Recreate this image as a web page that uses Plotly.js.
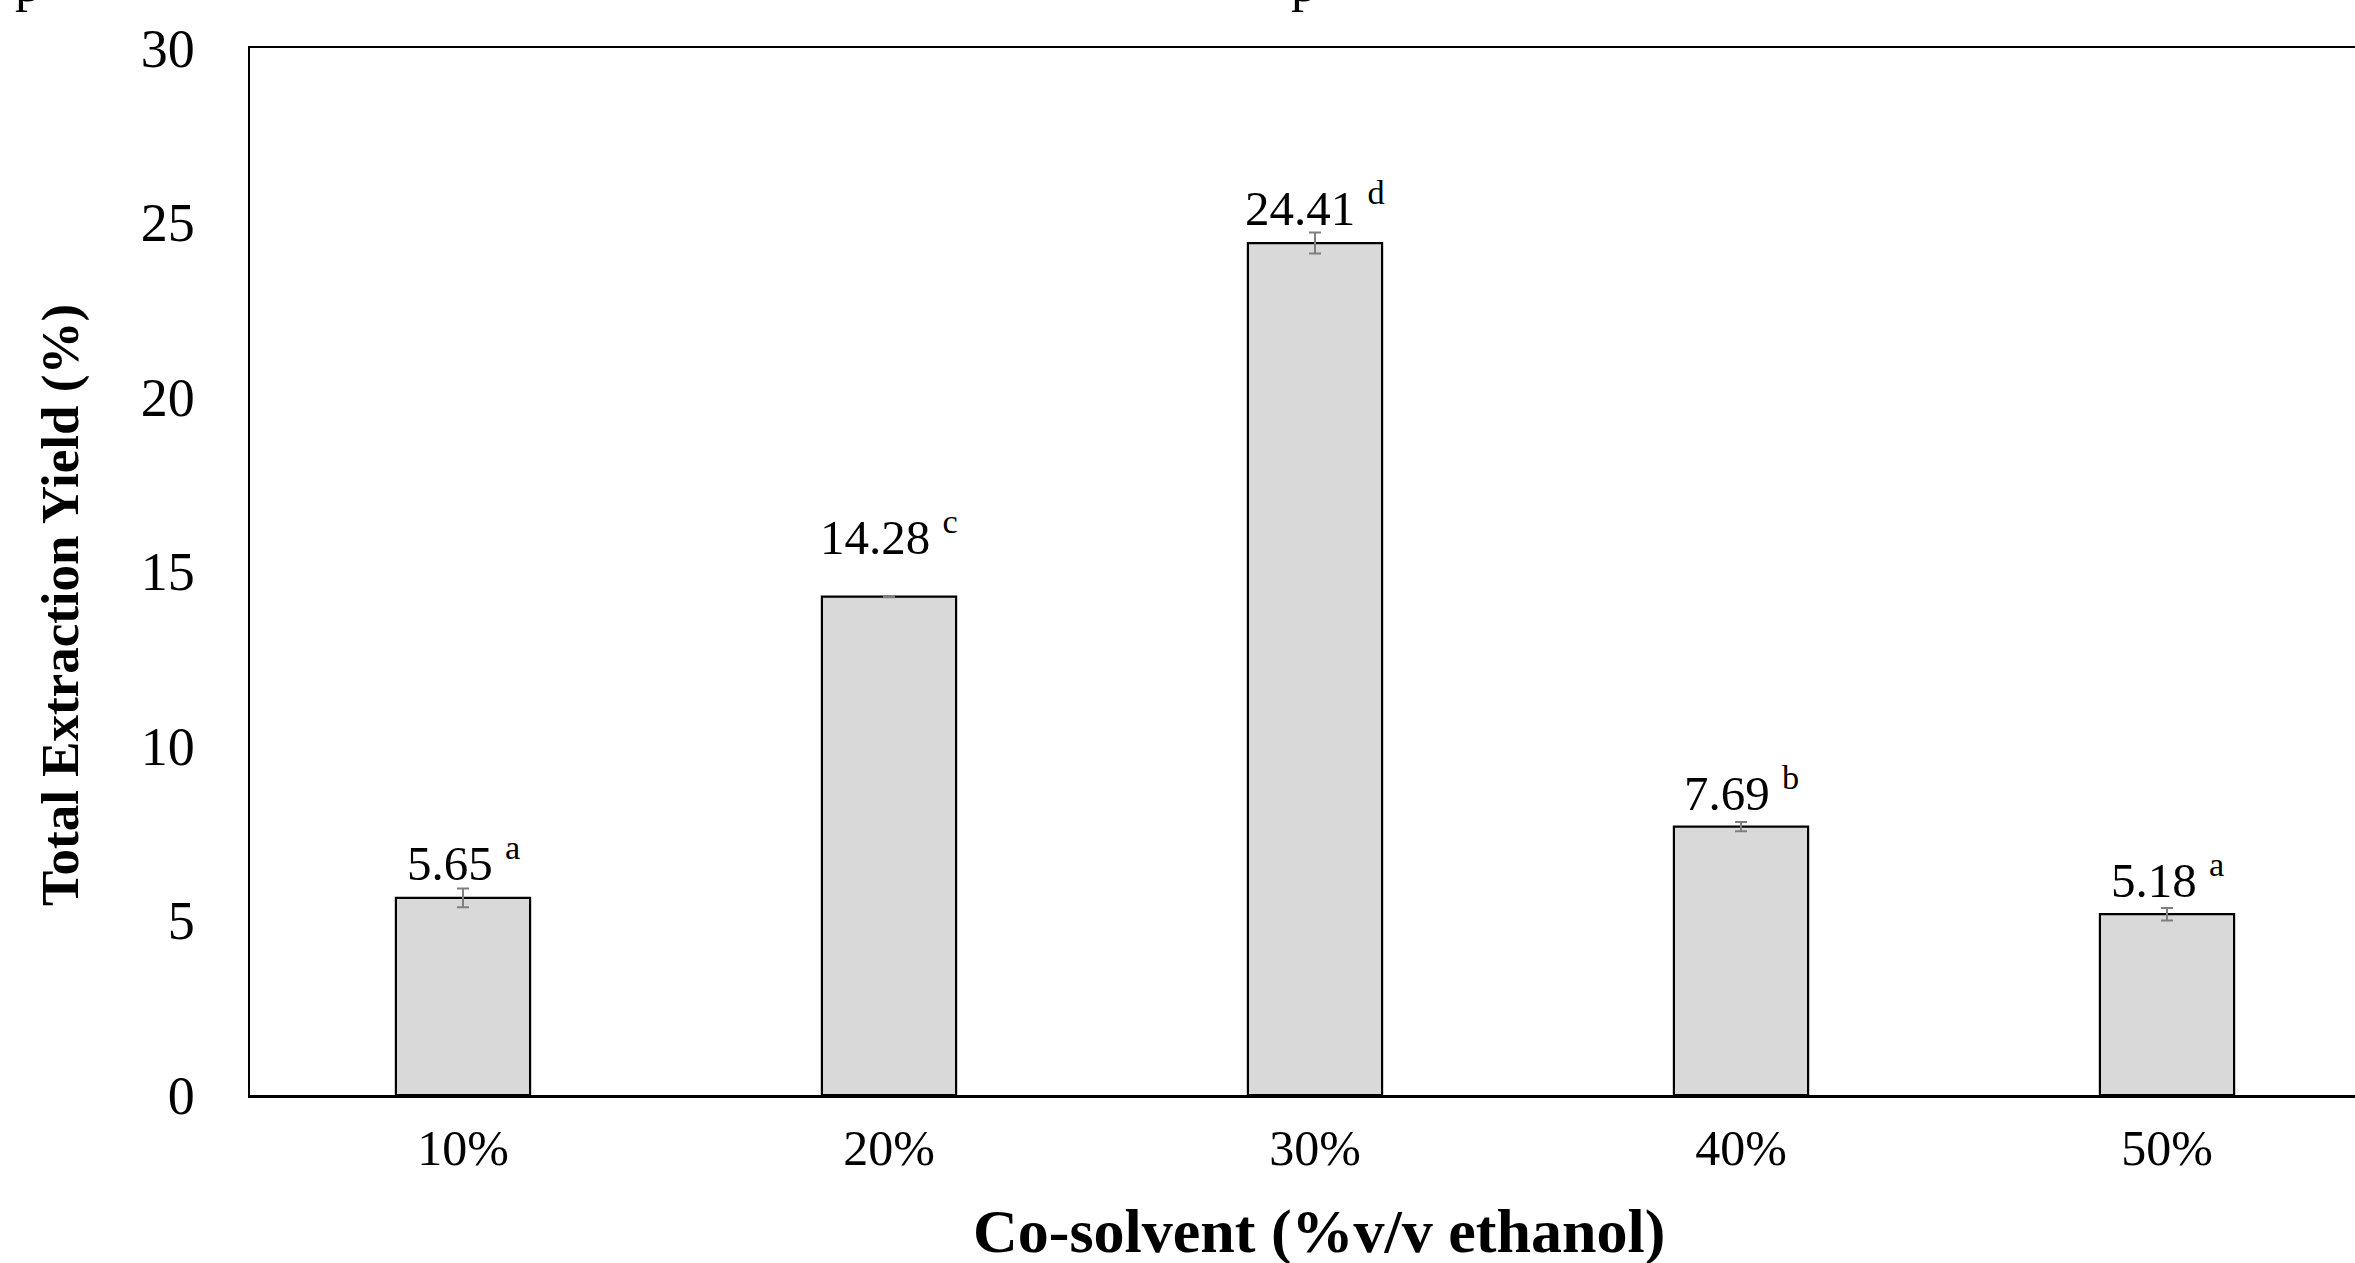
<!DOCTYPE html>
<html>
<head>
<meta charset="utf-8">
<script src="https://cdn.plot.ly/plotly-3.0.1.min.js"></script>
<style>
  html, body { margin: 0; padding: 0; background: #ffffff; overflow: hidden; }
  #chart { width: 2400px; height: 1263px; }
</style>
</head>
<body>
<div id="chart"></div>
<script>
// ---- data ----
const categories = ['10%', '20%', '30%', '40%', '50%'];
const yieldValues = [5.65, 14.28, 24.41, 7.69, 5.18];
const errorValues = [0.27, 0.02, 0.30, 0.13, 0.18];
const groupLetters = ['a', 'c', 'd', 'b', 'a'];
const yTickValues = [0, 5, 10, 15, 20, 25, 30];

// ---- styling (label offsets in px, not data) ----
const labelShift = [-5, 29, -5, -1, -2];
const serif = 'Liberation Serif, Times New Roman, serif';

const barTrace = {
  type: 'bar',
  x: categories,
  y: yieldValues,
  marker: { color: '#d9d9d9', line: { color: '#000000', width: 2.2 } },
  error_y: { type: 'data', array: errorValues, visible: true, color: '#7f7f7f', thickness: 2, width: 6 },
  hoverinfo: 'x+y'
};

const annotations = categories.map((c, i) => ({
  x: c, xref: 'x',
  y: yieldValues[i] + errorValues[i], yref: 'y',
  text: yieldValues[i].toFixed(2) + ' <sup>' + groupLetters[i] + '</sup>',
  showarrow: false, xanchor: 'center', yanchor: 'bottom',
  yshift: labelShift[i],
  font: { family: serif, size: 49, color: '#000000' }
}));

annotations.push({
  xref: 'paper', yref: 'paper', x: -0.0892, y: 0.468,
  text: '<b>Total Extraction Yield (%)</b>', textangle: -90,
  showarrow: false, xanchor: 'center', yanchor: 'middle',
  font: { family: serif, size: 53, color: '#000000' }
});
annotations.push({
  xref: 'paper', yref: 'paper', x: 0.502, y: -0.1308,
  text: '<b>Co-solvent (%v/v ethanol)</b>',
  showarrow: false, xanchor: 'center', yanchor: 'middle',
  font: { family: serif, size: 62, color: '#000000' }
});
// cut-off fragments of the caption above the chart
[-0.1042, 0.4948].forEach(px => annotations.push({
  xref: 'paper', yref: 'paper', x: px, y: 1.062,
  text: 'p', showarrow: false, xanchor: 'center', yanchor: 'middle',
  font: { family: serif, size: 52, color: '#000000' }
}));

const layout = {
  width: 2400, height: 1263,
  margin: { l: 250, r: 20, t: 48, b: 168, pad: 0 },
  paper_bgcolor: '#ffffff', plot_bgcolor: '#ffffff',
  showlegend: false,
  bargap: 0.685,
  xaxis: {
    type: 'category',
    showline: true, linecolor: '#000000', linewidth: 2.5, mirror: true,
    ticks: '', showgrid: false, zeroline: false,
    ticklabelstandoff: 7,
    tickfont: { family: serif, size: 50, color: '#000000' }
  },
  yaxis: {
    range: [0, 30], tickvals: yTickValues, ticktext: yTickValues.map(String),
    showline: true, linecolor: '#000000', linewidth: 2.5, mirror: true,
    ticks: '', showgrid: false, zeroline: false,
    ticklabelstandoff: 42,
    tickfont: { family: serif, size: 54, color: '#000000' }
  },
  annotations: annotations
};

Plotly.newPlot('chart', [barTrace], layout, { staticPlot: true, displayModeBar: false });
</script>
</body>
</html>
